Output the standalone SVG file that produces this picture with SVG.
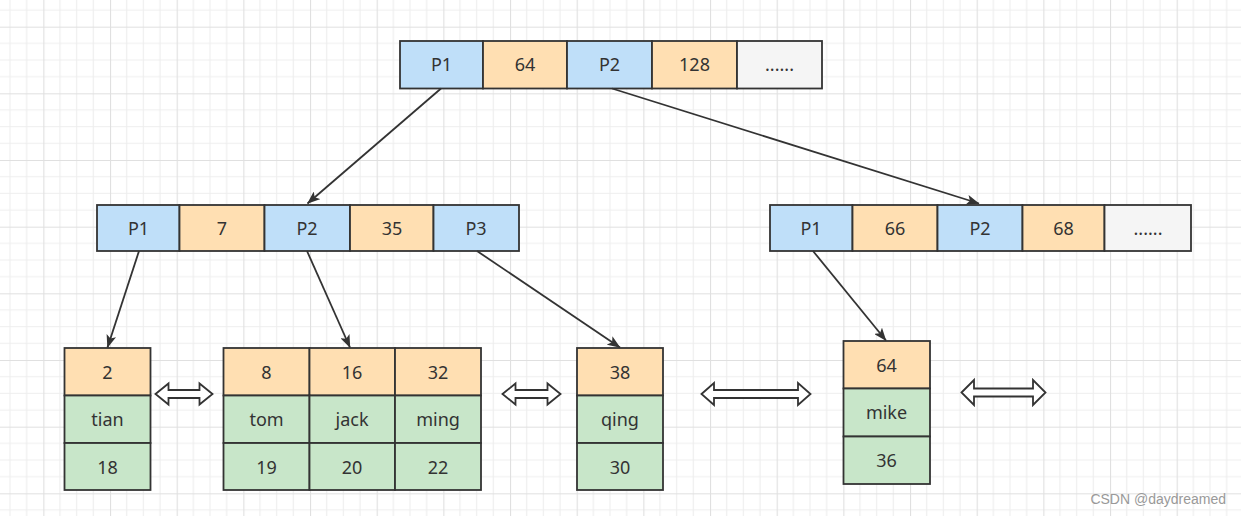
<svg xmlns="http://www.w3.org/2000/svg" width="1241" height="516" viewBox="0 0 1241 516">
<style>
.c{stroke:#333;stroke-width:1.8}
.b{fill:#bfdff9}
.o{fill:#ffdfb2}
.g{fill:#c8e6c9}
.w{fill:#f5f5f5}
text{font-family:"Noto Sans","Open Sans",sans-serif;font-size:18px;fill:#333;text-anchor:middle}
.wm{font-family:"Liberation Sans",Arial,sans-serif;font-size:14px;fill:#999;text-anchor:end}
.con{stroke:#333;stroke-width:1.8;fill:none;marker-end:url(#arr)}
.dbl{fill:#fff;stroke:#333;stroke-width:1.8;stroke-linejoin:miter}
</style>
<defs>
<pattern id="grid" patternUnits="userSpaceOnUse" x="43.333" y="26.667" width="66.667" height="66.667">
<path d="M16.667 0V66.667M33.333 0V66.667M50 0V66.667M0 16.667H66.667M0 33.333H66.667M0 50H66.667" stroke="#eeeeee" stroke-width="1.2" fill="none"/>
<path d="M0.5 0V66.667M0 0.5H66.667" stroke="#e0e0e0" stroke-width="1.2" fill="none"/>
</pattern>
<marker id="arr" markerUnits="userSpaceOnUse" viewBox="0 0 13 10" markerWidth="13" markerHeight="10" refX="12.5" refY="5" orient="auto">
<path d="M0 0L13 5L0 10L3 5Z" fill="#333"/>
</marker>
</defs>
<rect width="1241" height="516" fill="#fff"/>
<rect width="1241" height="516" fill="url(#grid)"/>

<g id="root">
<rect class="c b" x="400" y="41" width="83" height="47.5"/>
<rect class="c o" x="483" y="41" width="84" height="47.5"/>
<rect class="c b" x="567" y="41" width="85" height="47.5"/>
<rect class="c o" x="652" y="41" width="85" height="47.5"/>
<rect class="c w" x="737" y="41" width="85" height="47.5"/>
<text x="441.5" y="71">P1</text>
<text x="525" y="71">64</text>
<text x="609.5" y="71">P2</text>
<text x="694.5" y="71">128</text>
<text x="779.5" y="71">......</text>
</g>

<g id="mid-left">
<rect class="c b" x="97" y="205" width="82.5" height="46"/>
<rect class="c o" x="179.5" y="205" width="85" height="46"/>
<rect class="c b" x="264.5" y="205" width="85.5" height="46"/>
<rect class="c o" x="350" y="205" width="83.5" height="46"/>
<rect class="c b" x="433.5" y="205" width="85.5" height="46"/>
<text x="138.5" y="234.5">P1</text>
<text x="222" y="234.5">7</text>
<text x="307" y="234.5">P2</text>
<text x="392" y="234.5">35</text>
<text x="476" y="234.5">P3</text>
</g>

<g id="mid-right">
<rect class="c b" x="770" y="205" width="82.5" height="46"/>
<rect class="c o" x="852.5" y="205" width="85" height="46"/>
<rect class="c b" x="937.5" y="205" width="85" height="46"/>
<rect class="c o" x="1022.5" y="205" width="82" height="46"/>
<rect class="c w" x="1104.5" y="205" width="86.5" height="46"/>
<text x="811" y="234.5">P1</text>
<text x="895" y="234.5">66</text>
<text x="980" y="234.5">P2</text>
<text x="1063.5" y="234.5">68</text>
<text x="1148" y="234.5">......</text>
</g>

<g id="leaf1">
<rect class="c o" x="64.5" y="348" width="86" height="47.5"/>
<rect class="c g" x="64.5" y="395.5" width="86" height="47.5"/>
<rect class="c g" x="64.5" y="443" width="86" height="47"/>
<text x="107.5" y="378.5">2</text>
<text x="107.5" y="425.5">tian</text>
<text x="107.5" y="473.5">18</text>
</g>

<g id="leaf2">
<rect class="c o" x="223.5" y="348" width="86" height="47.5"/>
<rect class="c o" x="309.5" y="348" width="85.5" height="47.5"/>
<rect class="c o" x="395" y="348" width="86" height="47.5"/>
<rect class="c g" x="223.5" y="395.5" width="86" height="47.5"/>
<rect class="c g" x="309.5" y="395.5" width="85.5" height="47.5"/>
<rect class="c g" x="395" y="395.5" width="86" height="47.5"/>
<rect class="c g" x="223.5" y="443" width="86" height="47"/>
<rect class="c g" x="309.5" y="443" width="85.5" height="47"/>
<rect class="c g" x="395" y="443" width="86" height="47"/>
<text x="266.5" y="378.5">8</text>
<text x="352" y="378.5">16</text>
<text x="438" y="378.5">32</text>
<text x="266.5" y="425.5">tom</text>
<text x="352" y="425.5">jack</text>
<text x="438" y="425.5">ming</text>
<text x="266.5" y="473.5">19</text>
<text x="352" y="473.5">20</text>
<text x="438" y="473.5">22</text>
</g>

<g id="leaf3">
<rect class="c o" x="577" y="348" width="86" height="47.5"/>
<rect class="c g" x="577" y="395.5" width="86" height="47.5"/>
<rect class="c g" x="577" y="443" width="86" height="47"/>
<text x="620" y="378.5">38</text>
<text x="620" y="425.5">qing</text>
<text x="620" y="473.5">30</text>
</g>

<g id="leaf4">
<rect class="c o" x="843.5" y="341" width="86.5" height="47.5"/>
<rect class="c g" x="843.5" y="388.5" width="86.5" height="48"/>
<rect class="c g" x="843.5" y="436.5" width="86.5" height="47.5"/>
<text x="886.5" y="371.5">64</text>
<text x="886.5" y="419">mike</text>
<text x="886.5" y="467">36</text>
</g>

<g id="connectors">
<line class="con" x1="441" y1="88.5" x2="307.5" y2="203.5"/>
<line class="con" x1="612" y1="88.5" x2="979" y2="203.5"/>
<line class="con" x1="139" y1="251" x2="107.5" y2="347.5"/>
<line class="con" x1="307" y1="251" x2="350" y2="347.5"/>
<line class="con" x1="477" y1="251" x2="620" y2="347.5"/>
<line class="con" x1="813" y1="251" x2="886" y2="340.5"/>
</g>

<g id="links">
<path class="dbl" d="M155.5 394L168.5 383.5V390H199.5V383.5L212.5 394L199.5 404.5V398H168.5V404.5Z"/>
<path class="dbl" d="M502.5 394L515.5 383.5V390H547.5V383.5L560.5 394L547.5 404.5V398H515.5V404.5Z"/>
<path class="dbl" d="M701.5 394L714 383V390H798V383L810.5 394L798 405V398H714V405Z"/>
<path class="dbl" d="M961.5 392.5L974 380V388.5H1033V380L1045.5 392.5L1033 405V396.5H974V405Z"/>
</g>

<text class="wm" x="1226" y="504">CSDN @daydreamed</text>
</svg>
